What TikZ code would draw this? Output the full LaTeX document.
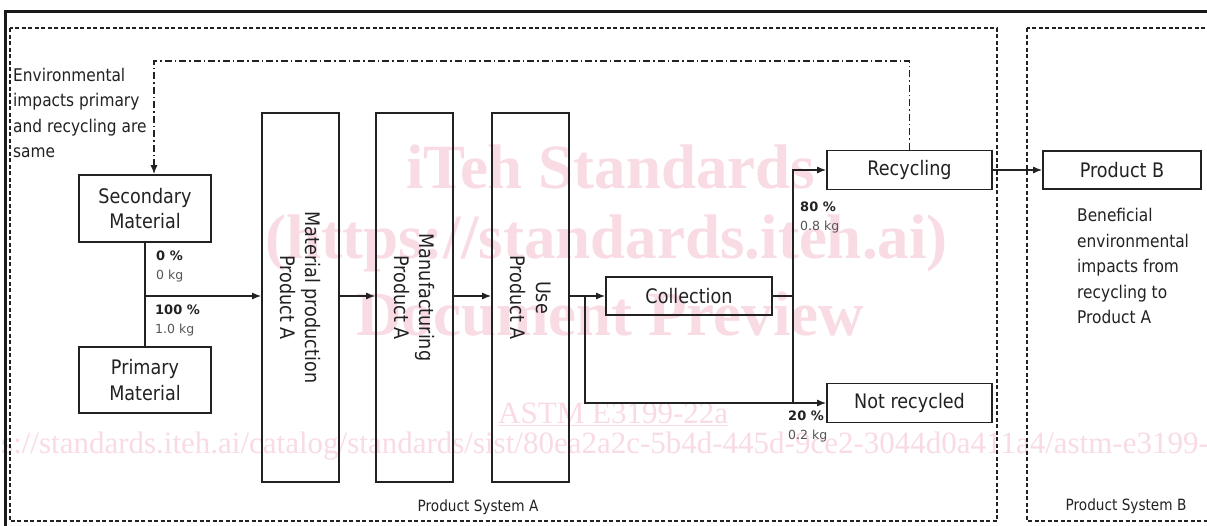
\documentclass[tikz,border=0pt]{standalone}
\usepackage{fontspec}
\setmainfont{DejaVu Sans}[FakeStretch=0.88]
\newfontfamily\widefont{DejaVu Sans}
\newfontfamily\wmfont{Liberation Serif}
\usetikzlibrary{arrows.meta,calc}
\definecolor{ink}{HTML}{222222}
\definecolor{sub}{HTML}{555555}
\definecolor{wm}{RGB}{249,219,227}
\newcommand\bxf{\fontsize{20}{25.5}\selectfont}
\newcommand\anf{\fontsize{17.5}{25.5}\selectfont}
\newcommand\smf{\widefont\fontsize{12.5}{19}\selectfont}
\newcommand\pcb[1]{{\fontsize{13}{19}\selectfont\bfseries #1}}
\tikzset{
  box/.style={draw=ink, line width=1.6pt, inner sep=0pt, font=\bxf, text=ink, align=center},
  rottxt/.style={font=\bxf, text=ink, align=center, rotate=-90, inner sep=0pt},
  conn/.style={draw=ink, line width=1.4pt},
  arr/.style={conn, -{Latex[length=9pt,width=7pt]}},
  ddarr/.style={arr, dash pattern=on 7pt off 3pt on 1.5pt off 3pt},
  sysbox/.style={draw=ink, line width=1.5pt, dash pattern=on 4pt off 2.5pt},
  note/.style={font=\anf, text=ink, align=left, inner sep=0pt},
  pct/.style={font=\smf, text=ink, align=left, inner sep=0pt, anchor=west},
  syslbl/.style={font=\fontsize{15.5}{17}\selectfont, text=ink, inner sep=0pt},
  wmk/.style={text=wm, inner sep=0pt, anchor=base west}
}
\begin{document}
\begin{tikzpicture}[x=1pt,y=-1pt]
\useasboundingbox (0,0) rectangle (1207,525);
\clip (0,0) rectangle (1207,525);
\fill[white] (0,0) rectangle (1207,525);

% watermark
\node[wmk, font=\wmfont\bfseries\fontsize{63}{63}\selectfont] (wm1) at (406,188) {iTeh Standards};
\node[wmk, font=\wmfont\bfseries\fontsize{63}{63}\selectfont] (wm2) at (265,258) {(https://standards.iteh.ai)};
\node[wmk, font=\wmfont\bfseries\fontsize{63}{63}\selectfont] (wm3) at (356,335) {Document Preview};
\node[wmk, font=\wmfont\fontsize{31}{31}\selectfont] (wm4) at (498,423) {\underline{ASTM E3199-22a}};
\node[wmk, font=\wmfont\fontsize{31}{31}\selectfont] (wm5) at (1,453) {s://standards.iteh.ai/catalog/standards/sist/80ea2a2c-5b4d-445d-9ce2-3044d0a411a4/astm-e3199-};

% outer frame
\draw[line width=3pt, draw=black!90] (5,600) -- (5,11) -- (1300,11);

% product systems
\draw[sysbox] (10,28) rectangle (997,521);
\draw[sysbox] (1027,28) rectangle (1260,521);
\node[syslbl] (sysA) at (478,507) {Product System A};
\node[syslbl] (sysB) at (1126,506) {Product System B};

% boxes
\node[box, minimum width=132pt, minimum height=67pt] (sec) at (145,208.5) {Secondary\\Material};
\node[box, minimum width=132pt, minimum height=66pt] (prim) at (145,380) {Primary\\Material};
\node[box, minimum width=77pt, minimum height=369pt] (mat) at (300.5,297.5) {};
\node[box, minimum width=77pt, minimum height=369pt] (man) at (414.5,297.5) {};
\node[box, minimum width=77pt, minimum height=369pt] (use) at (530.5,297.5) {};
\node[rottxt] (matT) at (mat.center) {Material production\\Product A};
\node[rottxt] (manT) at (man.center) {Manufacturing\\Product A};
\node[rottxt] (useT) at (use.center) {Use\\Product A};
\node[box, minimum width=166pt, minimum height=38pt] (coll) at (689,296) {Collection};
\node[box, minimum width=165pt, minimum height=39pt] (rec) at (909.5,170) {Recycling};
\node[box, minimum width=165pt, minimum height=39pt] (nrec) at (909.5,403) {Not recycled};
\node[box, minimum width=158pt, minimum height=38pt] (prodB) at (1122,170) {Product B};

% notes
\node[note, anchor=north west] (env) at (13,68) {Environmental\\impacts primary\\and recycling are\\same};
\node[note, anchor=north west] (ben) at (1077,208) {Beneficial\\environmental\\impacts from\\recycling to\\Product A};

% percentages
\node[pct] (p0) at (156,266.5) {\pcb{0 \%}\\\textcolor{sub}{0 kg}};
\node[pct] (p100) at (155,320.5) {\pcb{100 \%}\\\textcolor{sub}{1.0 kg}};
\node[pct] (p80) at (800,217.5) {\pcb{80 \%}\\\textcolor{sub}{0.8 kg}};
\node[pct] (p20) at (788,426) {\pcb{20 \%}\\\textcolor{sub}{0.2 kg}};

% connectors
\coordinate (j1) at (145,296);
\coordinate (b1) at (585,296);
\coordinate (b3) at (793,296);
\coordinate (dtop) at (154,61);
\draw[conn] (sec.south) -- (prim.north);
\draw[arr] (j1) -- (j1 -| mat.west);
\draw[arr] (mat.east |- j1) -- (man.west |- j1);
\draw[arr] (man.east |- j1) -- (use.west |- j1);
\draw[arr] (use.east |- coll.west) -- (coll.west);
\draw[arr] (b1) |- (nrec.west);
\draw[conn] (coll.east) -- (b3);
\draw[arr] (b3) |- (rec.west);
\draw[conn] (b3) -- (b3 |- nrec.west);
\draw[arr] (rec.east) -- (prodB.west);
\draw[ddarr] (rec.north) |- (dtop) -- (dtop |- sec.north);
\end{tikzpicture}
\end{document}
